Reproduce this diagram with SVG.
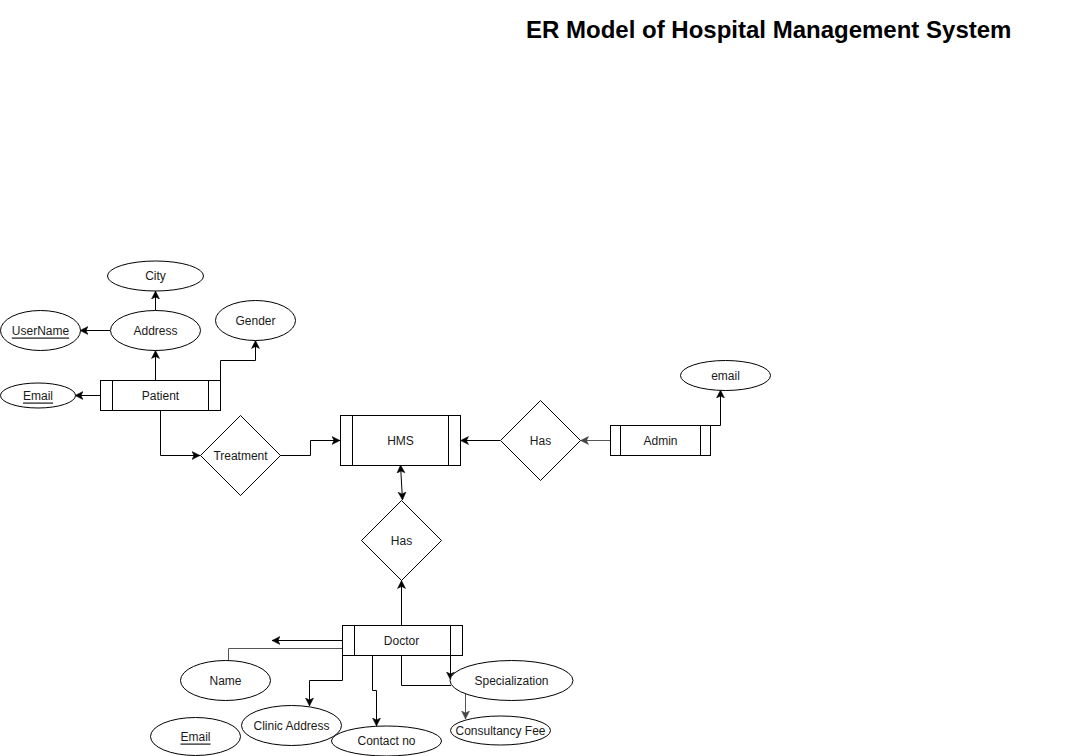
<svg xmlns="http://www.w3.org/2000/svg" width="1092" height="756" viewBox="0 0 1092 756">
<defs>
<marker id="arr" markerUnits="userSpaceOnUse" markerWidth="10" markerHeight="10" refX="8" refY="4" orient="auto-start-reverse" viewBox="0 0 10 8">
<path d="M0,0 L8,4 L0,8 L2,4 Z" fill="#000" stroke="#000" stroke-width="0.5"/>
</marker>
<marker id="arrg" markerUnits="userSpaceOnUse" markerWidth="10" markerHeight="10" refX="8" refY="4" orient="auto-start-reverse" viewBox="0 0 10 8">
<path d="M0,0 L8,4 L0,8 L2,4 Z" fill="#444" stroke="#444" stroke-width="0.5"/>
</marker>
</defs>
<style>
.shape{fill:#fff;stroke:#000;stroke-width:1}
.lbl{font-family:"Liberation Sans",Arial,sans-serif;font-size:12px;fill:#1a1a1a;text-anchor:middle;dominant-baseline:central}
.u{text-decoration:underline}
.e{fill:none;stroke:#000;stroke-width:1}
.eg{fill:none;stroke:#555;stroke-width:1}
.title{font-family:"Liberation Sans",Arial,sans-serif;font-size:24px;font-weight:bold;fill:#000}
</style>
<rect width="1092" height="756" fill="#fff"/>
<text class="title" x="526" y="38">ER Model of Hospital Management System</text>

<g id="connectors">
<path class="e" d="M155.5,380 V350.5" marker-end="url(#arr)"/>
<path class="e" d="M155.5,310.5 V291" marker-end="url(#arr)"/>
<path class="e" d="M110,330.5 H80" marker-end="url(#arr)"/>
<path class="e" d="M100,395.5 H75" marker-end="url(#arr)"/>
<path class="e" d="M220.5,380 V360.5 H255.5 V340.5" marker-end="url(#arr)"/>
<path class="e" d="M160.5,410 V455.5 H200" marker-end="url(#arr)"/>
<path class="e" d="M280,455.5 H310.5 V440.5 H340" marker-end="url(#arr)"/>
<path class="e" d="M400.5,465 L402.5,500" marker-start="url(#arr)" marker-end="url(#arr)"/>
<path class="e" d="M500,440.5 H460.5" marker-end="url(#arr)"/>
<path class="eg" d="M610,440.5 H580.5" marker-end="url(#arrg)"/>
<path class="e" d="M710.5,425.5 H720.5 V390" marker-end="url(#arr)"/>
<path class="e" d="M401.5,625 V580.5" marker-end="url(#arr)"/>
<path class="e" d="M342,640.5 H272" marker-end="url(#arr)"/>
<path class="eg" d="M342,648.5 H228.5 V660"/>
<path class="e" d="M342.5,655 V680.5 H309.5 V706" marker-end="url(#arr)"/>
<path class="e" d="M372.5,655 V690.5 H376.5 V726" marker-end="url(#arr)"/>
<path class="e" d="M401.5,655 V685.5 H451"/>
<path class="e" d="M450.5,655 V680" marker-end="url(#arr)"/>
<path class="eg" d="M465.5,693 V719" marker-end="url(#arrg)"/>
</g>

<g id="title-City"><ellipse class="shape" cx="155.5" cy="276" rx="48" ry="15"/><text class="lbl" x="155.5" y="276">City</text></g>
<g id="attr-Address"><ellipse class="shape" cx="155.5" cy="330.5" rx="45" ry="20"/><text class="lbl" x="155.5" y="330.5">Address</text></g>
<g id="attr-UserName"><ellipse class="shape" cx="40.5" cy="330.5" rx="40" ry="20"/><text class="lbl u" x="40.5" y="330.5">UserName</text></g>
<g id="attr-Gender"><ellipse class="shape" cx="255.5" cy="320.5" rx="40" ry="20"/><text class="lbl" x="255.5" y="320.5">Gender</text></g>
<g id="attr-PatientEmail"><ellipse class="shape" cx="38" cy="395.5" rx="37.5" ry="12.5"/><text class="lbl u" x="38" y="395.5">Email</text></g>

<g id="ent-Patient"><rect class="shape" x="100.5" y="380.5" width="120" height="30"/><line class="e" x1="112.5" y1="380.5" x2="112.5" y2="410.5"/><line class="e" x1="208.5" y1="380.5" x2="208.5" y2="410.5"/><text class="lbl" x="160.5" y="395.5">Patient</text></g>

<g id="rel-Treatment"><path class="shape" d="M240.5,415.5 L280.5,455.5 L240.5,495.5 L200.5,455.5 Z"/><text class="lbl" x="240.5" y="455.5">Treatment</text></g>

<g id="ent-HMS"><rect class="shape" x="340.5" y="415.5" width="120" height="50"/><line class="e" x1="352.5" y1="415.5" x2="352.5" y2="465.5"/><line class="e" x1="448.5" y1="415.5" x2="448.5" y2="465.5"/><text class="lbl" x="400.5" y="440.5">HMS</text></g>

<g id="rel-HasAdmin"><path class="shape" d="M540.5,400.5 L580.5,440.5 L540.5,480.5 L500.5,440.5 Z"/><text class="lbl" x="540.5" y="440.5">Has</text></g>

<g id="ent-Admin"><rect class="shape" x="610.5" y="425.5" width="100" height="30"/><line class="e" x1="620.5" y1="425.5" x2="620.5" y2="455.5"/><line class="e" x1="700.5" y1="425.5" x2="700.5" y2="455.5"/><text class="lbl" x="660.5" y="440.5">Admin</text></g>

<g id="attr-email"><ellipse class="shape" cx="725.5" cy="375.5" rx="45" ry="15"/><text class="lbl" x="725.5" y="375.5">email</text></g>

<g id="rel-HasDoctor"><path class="shape" d="M401.5,500.5 L441.5,540.5 L401.5,580.5 L361.5,540.5 Z"/><text class="lbl" x="401.5" y="540.5">Has</text></g>

<g id="ent-Doctor"><rect class="shape" x="342.5" y="625.5" width="120" height="30"/><line class="e" x1="354.5" y1="625.5" x2="354.5" y2="655.5"/><line class="e" x1="450.5" y1="625.5" x2="450.5" y2="655.5"/><text class="lbl" x="401.5" y="640.5">Doctor</text></g>

<g id="attr-Name"><ellipse class="shape" cx="225.5" cy="680.5" rx="45" ry="20"/><text class="lbl" x="225.5" y="680.5">Name</text></g>
<g id="attr-ClinicAddress"><ellipse class="shape" cx="291.5" cy="725.5" rx="50" ry="20"/><text class="lbl" x="291.5" y="725.5">Clinic Address</text></g>
<g id="attr-ContactNo"><ellipse class="shape" cx="386.5" cy="741" rx="55" ry="15"/><text class="lbl" x="386.5" y="741">Contact no</text></g>
<g id="attr-Specialization"><ellipse class="shape" cx="511.5" cy="680.5" rx="61.5" ry="20"/><text class="lbl" x="511.5" y="680.5">Specialization</text></g>
<g id="attr-ConsultancyFee"><ellipse class="shape" cx="500.5" cy="730.5" rx="50" ry="14.5"/><text class="lbl" x="500.5" y="730.5">Consultancy Fee</text></g>
<g id="attr-DoctorEmail"><ellipse class="shape" cx="195.5" cy="736.5" rx="45" ry="19"/><text class="lbl u" x="195.5" y="736.5">Email</text></g>
</svg>
